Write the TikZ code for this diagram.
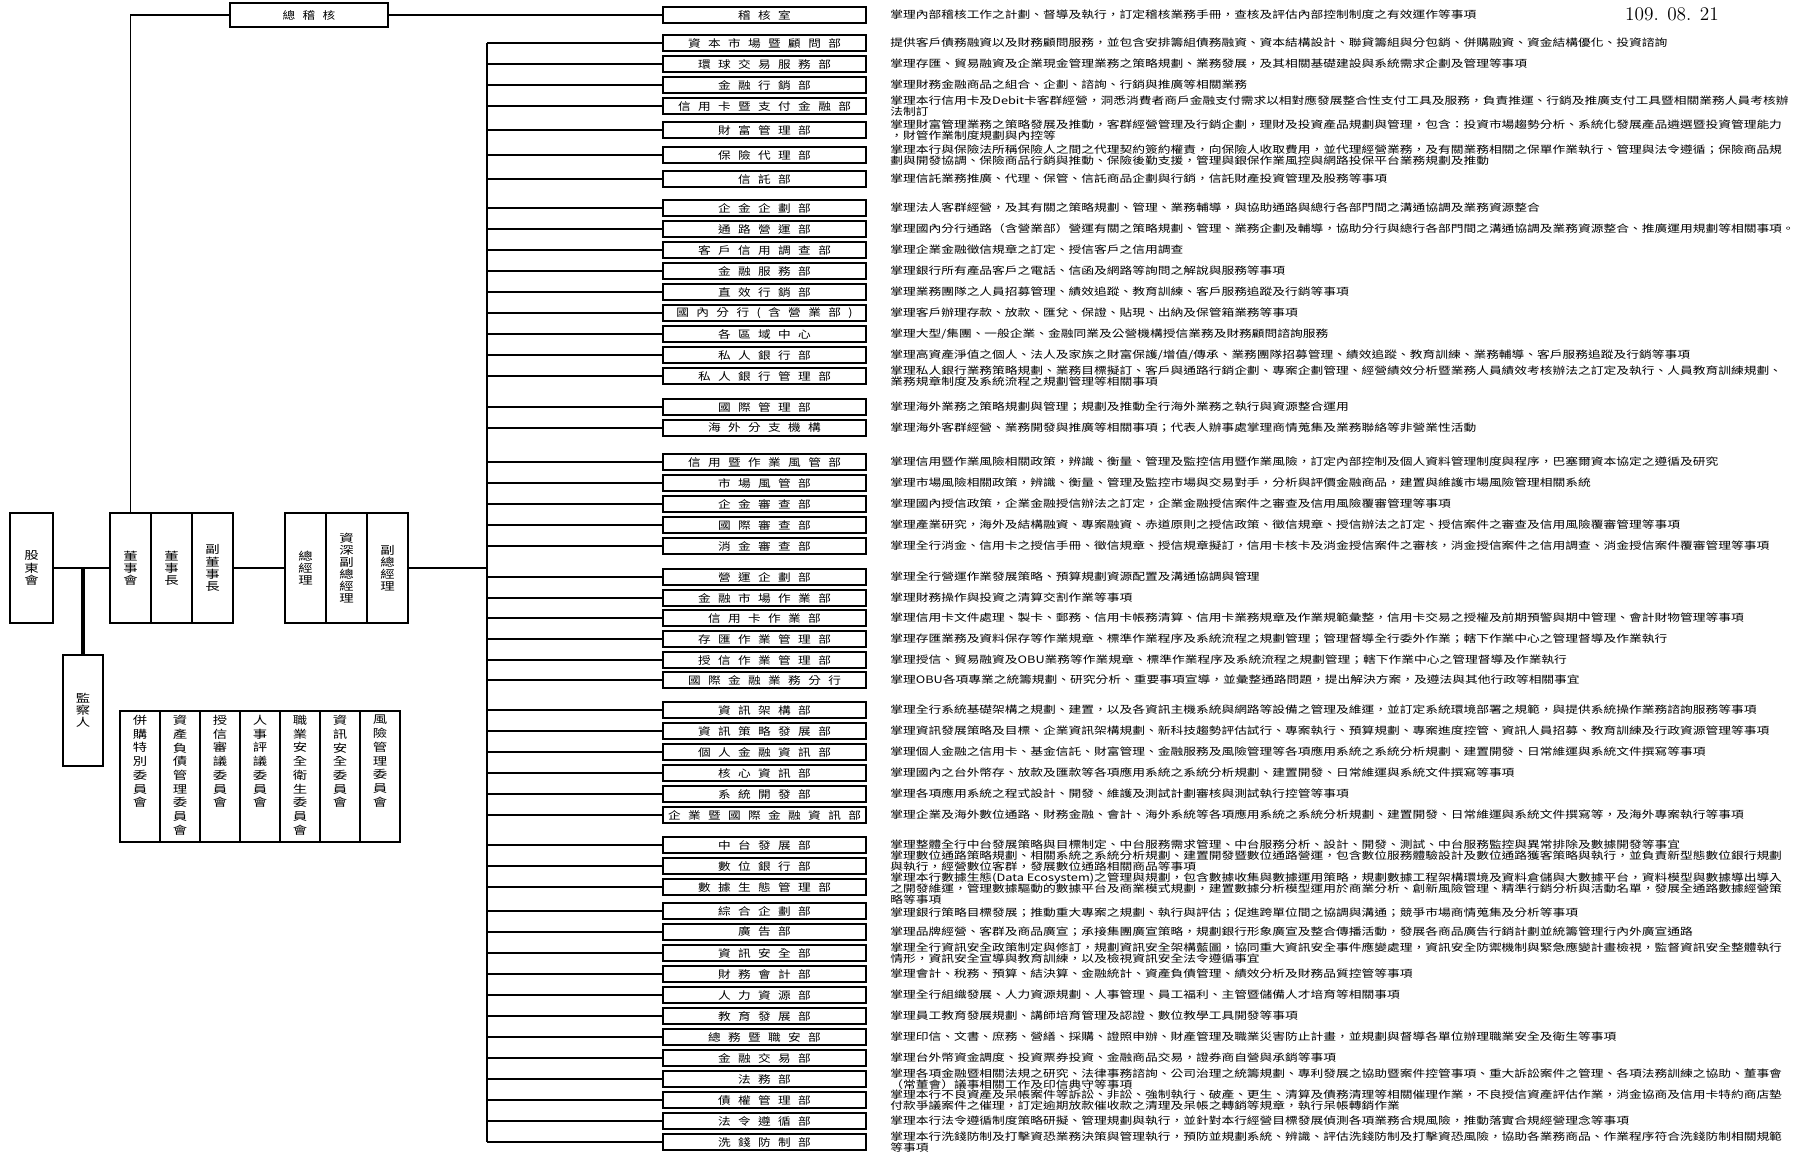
\documentclass[tikz,border=0pt]{standalone}
\usepackage{fontspec}
\usepackage{tikz}
\usetikzlibrary{positioning}
\newfontfamily\cjkv[FakeStretch=1.3]{Noto Sans CJK TC}
\newfontfamily\cjkdept[FakeStretch=1.2,LetterSpace=70]{Noto Sans CJK TC}
\newfontfamily\cjkdesc[FakeStretch=1.25]{Noto Sans CJK TC}
\newcommand\vfont{\cjkv\fontsize{6.3}{6.9}\selectfont}
\newcommand\cmtfont{\cjkv\fontsize{6.3}{7.8}\selectfont}
\newcommand\deptfont{\cjkdept\fontsize{6}{6.5}\selectfont}
\newcommand\descfont{\cjkdesc\fontsize{5.8}{6.3}\selectfont}
\newcommand\topcol[1]{\parbox[c][2.45cm][t]{0.8cm}{\centering #1}}
\tikzset{
  basecell/.style={rectangle, draw=black, line width=1pt, inner sep=0pt,
                   outer sep=0pt, align=center},
  chiefbox/.style={basecell, minimum width=0.82cm, minimum height=2.2cm,
                   font=\vfont},
  cmtbox/.style={basecell, minimum width=0.8cm, minimum height=2.62cm,
                 font=\cmtfont},
  deptbox/.style={basecell, minimum width=4.06cm, minimum height=0.32cm,
                  font=\deptfont},
  descnode/.style={inner sep=0pt, align=left, font=\descfont},
  busline/.style={line width=1.7pt},
  branchline/.style={line width=1.1pt}
}
\begin{document}
\begin{tikzpicture}[x=0.02cm, y=-0.02cm, node distance=0.48cm]
  \useasboundingbox (0,0) rectangle (1813,1155);
  \node[font=\fontsize{11}{12}\selectfont, anchor=north] (date) at (1672,1) {109. 08. 21};

  % board and management
  \node[deptbox, minimum width=3.16cm, minimum height=0.48cm] (zjh) at (309,15) {總稽核};
  \node[chiefbox, minimum width=0.86cm] (gdh) at (31.5,568) {股\\東\\會};
  \node[chiefbox, minimum width=0.8cm, minimum height=2.22cm] (jcr) at (83,710.5) {監\\察\\人};
  \node[chiefbox] (dsh) at (130.5,568) {董\\事\\會};
  \node[chiefbox, right=0pt of dsh] (dsz) {董\\事\\長};
  \node[chiefbox, right=0pt of dsz] (fdsz) {副\\董\\事\\長};
  \node[chiefbox] (zjl) at (305.5,568) {總\\經\\理};
  \node[chiefbox, right=0pt of zjl] (zsfz) {資\\深\\副\\總\\經\\理};
  \node[chiefbox, right=0pt of zsfz] (fzjl) {副\\總\\經\\理};

  % committees
  \node[cmtbox] (cm1) at (140,776.5) {\topcol{併\\購\\特\\別\\委\\員\\會}};
  \node[cmtbox, right=0pt of cm1] (cm2) {\topcol{資\\產\\負\\債\\管\\理\\委\\員\\會}};
  \node[cmtbox, right=0pt of cm2] (cm3) {\topcol{授\\信\\審\\議\\委\\員\\會}};
  \node[cmtbox, right=0pt of cm3] (cm4) {\topcol{人\\事\\評\\議\\委\\員\\會}};
  \node[cmtbox, right=0pt of cm4] (cm5) {\topcol{職\\業\\安\\全\\衛\\生\\委\\員\\會}};
  \node[cmtbox, right=0pt of cm5] (cm6) {\topcol{資\\訊\\安\\全\\委\\員\\會}};
  \node[cmtbox, right=0pt of cm6] (cm7) {\topcol{風\\險\\管\\理\\委\\員\\會}};

  % departments
  \node[deptbox] (audit) at (764.5,15) {稽核室};
  \node[deptbox] (capmkt) at (764.5,43) {資本市場暨顧問部};
  \node[deptbox] (gts) at (764.5,64) {環球交易服務部};
  \node[deptbox] (fmkt) at (764.5,85) {金融行銷部};
  \node[deptbox] (card) at (764.5,106) {信用卡暨支付金融部};
  \node[deptbox] (wealth) at (764.5,130) {財富管理部};
  \node[deptbox] (insur) at (764.5,155) {保險代理部};
  \node[deptbox] (trust) at (764.5,179) {信託部};
  \node[deptbox] (ebplan) at (764.5,208) {企金企劃部};
  \node[deptbox] (channel) at (764.5,229) {通路營運部};
  \node[deptbox] (credinv) at (764.5,250) {客戶信用調查部};
  \node[deptbox] (finsvc) at (764.5,271) {金融服務部};
  \node[deptbox] (dmkt) at (764.5,292) {直效行銷部};
  \node[deptbox] (branch) at (764.5,313) {國內分行(含營業部)};
  \node[deptbox] (region) at (764.5,334) {各區域中心};
  \node[deptbox] (pb) at (764.5,355) {私人銀行部};
  \node[deptbox] (pbmgt) at (764.5,376) {私人銀行管理部};
  \node[deptbox] (intl) at (764.5,407) {國際管理部};
  \node[deptbox] (overseas) at (764.5,428) {海外分支機構};
  \node[deptbox] (crrisk) at (764.5,462) {信用暨作業風管部};
  \node[deptbox] (mktrisk) at (764.5,483) {市場風管部};
  \node[deptbox] (ebrev) at (764.5,504) {企金審查部};
  \node[deptbox] (intlrev) at (764.5,525) {國際審查部};
  \node[deptbox] (cbrev) at (764.5,546) {消金審查部};
  \node[deptbox] (opsplan) at (764.5,577) {營運企劃部};
  \node[deptbox] (fmops) at (764.5,598) {金融市場作業部};
  \node[deptbox] (cardops) at (764.5,618) {信用卡作業部};
  \node[deptbox] (depops) at (764.5,639) {存匯作業管理部};
  \node[deptbox] (loanops) at (764.5,660) {授信作業管理部};
  \node[deptbox] (obu) at (764.5,680) {國際金融業務分行};
  \node[deptbox] (itarch) at (764.5,710) {資訊架構部};
  \node[deptbox] (itstrat) at (764.5,731) {資訊策略發展部};
  \node[deptbox] (pfit) at (764.5,752) {個人金融資訊部};
  \node[deptbox] (coreit) at (764.5,773) {核心資訊部};
  \node[deptbox] (sysdev) at (764.5,794) {系統開發部};
  \node[deptbox] (ebit) at (764.5,815) {企業暨國際金融資訊部};
  \node[deptbox] (midpf) at (764.5,845) {中台發展部};
  \node[deptbox] (digital) at (764.5,866) {數位銀行部};
  \node[deptbox] (data) at (764.5,887) {數據生態管理部};
  \node[deptbox] (strategy) at (764.5,911) {綜合企劃部};
  \node[deptbox] (adv) at (764.5,932) {廣告部};
  \node[deptbox] (infosec) at (764.5,953) {資訊安全部};
  \node[deptbox] (acct) at (764.5,974) {財務會計部};
  \node[deptbox] (hr) at (764.5,995) {人力資源部};
  \node[deptbox] (edu) at (764.5,1016) {教育發展部};
  \node[deptbox] (general) at (764.5,1037) {總務暨職安部};
  \node[deptbox] (fintrade) at (764.5,1058) {金融交易部};
  \node[deptbox] (legal) at (764.5,1079) {法務部};
  \node[deptbox] (npl) at (764.5,1100) {債權管理部};
  \node[deptbox] (compl) at (764.5,1121) {法令遵循部};
  \node[deptbox] (aml) at (764.5,1142) {洗錢防制部};

  % duties
  \node[descnode, right=of audit] (audit-d) {掌理內部稽核工作之計劃、督導及執行，訂定稽核業務手冊，查核及評估內部控制制度之有效運作等事項};
  \node[descnode, right=of capmkt] (capmkt-d) {提供客戶債務融資以及財務顧問服務，並包含安排籌組債務融資、資本結構設計、聯貸籌組與分包銷、併購融資、資金結構優化、投資諮詢};
  \node[descnode, right=of gts] (gts-d) {掌理存匯、貿易融資及企業現金管理業務之策略規劃、業務發展，及其相關基礎建設與系統需求企劃及管理等事項};
  \node[descnode, right=of fmkt] (fmkt-d) {掌理財務金融商品之組合、企劃、諮詢、行銷與推廣等相關業務};
  \node[descnode, right=of card] (card-d) {掌理本行信用卡及Debit卡客群經營，洞悉消費者商戶金融支付需求以相對應發展整合性支付工具及服務，負責推運、行銷及推廣支付工具暨相關業務人員考核辦\\法制訂};
  \node[descnode, right=of wealth] (wealth-d) {掌理財富管理業務之策略發展及推動，客群經營管理及行銷企劃，理財及投資產品規劃與管理，包含：投資市場趨勢分析、系統化發展產品遴選暨投資管理能力\\，財管作業制度規劃與內控等};
  \node[descnode, right=of insur] (insur-d) {掌理本行與保險法所稱保險人之間之代理契約簽約權責，向保險人收取費用，並代理經營業務，及有關業務相關之保單作業執行、管理與法令遵循；保險商品規\\劃與開發協調、保險商品行銷與推動、保險後勤支援，管理與銀保作業風控與網路投保平台業務規劃及推動};
  \node[descnode, right=of trust] (trust-d) {掌理信託業務推廣、代理、保管、信託商品企劃與行銷，信託財產投資管理及股務等事項};
  \node[descnode, right=of ebplan] (ebplan-d) {掌理法人客群經營，及其有關之策略規劃、管理、業務輔導，與協助通路與總行各部門間之溝通協調及業務資源整合};
  \node[descnode, right=of channel] (channel-d) {掌理國內分行通路（含營業部）營運有關之策略規劃、管理、業務企劃及輔導，協助分行與總行各部門間之溝通協調及業務資源整合、推廣運用規劃等相關事項。};
  \node[descnode, right=of credinv] (credinv-d) {掌理企業金融徵信規章之訂定、授信客戶之信用調查};
  \node[descnode, right=of finsvc] (finsvc-d) {掌理銀行所有產品客戶之電話、信函及網路等詢問之解說與服務等事項};
  \node[descnode, right=of dmkt] (dmkt-d) {掌理業務團隊之人員招募管理、績效追蹤、教育訓練、客戶服務追蹤及行銷等事項};
  \node[descnode, right=of branch] (branch-d) {掌理客戶辦理存款、放款、匯兌、保證、貼現、出納及保管箱業務等事項};
  \node[descnode, right=of region] (region-d) {掌理大型/集團、一般企業、金融同業及公營機構授信業務及財務顧問諮詢服務};
  \node[descnode, right=of pb] (pb-d) {掌理高資產淨值之個人、法人及家族之財富保護/增值/傳承、業務團隊招募管理、績效追蹤、教育訓練、業務輔導、客戶服務追蹤及行銷等事項};
  \node[descnode, right=of pbmgt] (pbmgt-d) {掌理私人銀行業務策略規劃、業務目標擬訂、客戶與通路行銷企劃、專案企劃管理、經營績效分析暨業務人員績效考核辦法之訂定及執行、人員教育訓練規劃、\\業務規章制度及系統流程之規劃管理等相關事項};
  \node[descnode, right=of intl] (intl-d) {掌理海外業務之策略規劃與管理；規劃及推動全行海外業務之執行與資源整合運用};
  \node[descnode, right=of overseas] (overseas-d) {掌理海外客群經營、業務開發與推廣等相關事項；代表人辦事處掌理商情蒐集及業務聯絡等非營業性活動};
  \node[descnode, right=of crrisk] (crrisk-d) {掌理信用暨作業風險相關政策，辨識、衡量、管理及監控信用暨作業風險，訂定內部控制及個人資料管理制度與程序，巴塞爾資本協定之遵循及研究};
  \node[descnode, right=of mktrisk] (mktrisk-d) {掌理市場風險相關政策，辨識、衡量、管理及監控市場與交易對手，分析與評價金融商品，建置與維護市場風險管理相關系統};
  \node[descnode, right=of ebrev] (ebrev-d) {掌理國內授信政策，企業金融授信辦法之訂定，企業金融授信案件之審查及信用風險覆審管理等事項};
  \node[descnode, right=of intlrev] (intlrev-d) {掌理產業研究，海外及結構融資、專案融資、赤道原則之授信政策、徵信規章、授信辦法之訂定、授信案件之審查及信用風險覆審管理等事項};
  \node[descnode, right=of cbrev] (cbrev-d) {掌理全行消金、信用卡之授信手冊、徵信規章、授信規章擬訂，信用卡核卡及消金授信案件之審核，消金授信案件之信用調查、消金授信案件覆審管理等事項};
  \node[descnode, right=of opsplan] (opsplan-d) {掌理全行營運作業發展策略、預算規劃資源配置及溝通協調與管理};
  \node[descnode, right=of fmops] (fmops-d) {掌理財務操作與投資之清算交割作業等事項};
  \node[descnode, right=of cardops] (cardops-d) {掌理信用卡文件處理、製卡、郵務、信用卡帳務清算、信用卡業務規章及作業規範彙整，信用卡交易之授權及前期預警與期中管理、會計財物管理等事項};
  \node[descnode, right=of depops] (depops-d) {掌理存匯業務及資料保存等作業規章、標準作業程序及系統流程之規劃管理；管理督導全行委外作業；轄下作業中心之管理督導及作業執行};
  \node[descnode, right=of loanops] (loanops-d) {掌理授信、貿易融資及OBU業務等作業規章、標準作業程序及系統流程之規劃管理；轄下作業中心之管理督導及作業執行};
  \node[descnode, right=of obu] (obu-d) {掌理OBU各項專業之統籌規劃、研究分析、重要事項宣導，並彙整通路問題，提出解決方案，及遵法與其他行政等相關事宜};
  \node[descnode, right=of itarch] (itarch-d) {掌理全行系統基礎架構之規劃、建置，以及各資訊主機系統與網路等設備之管理及維運，並訂定系統環境部署之規範，與提供系統操作業務諮詢服務等事項};
  \node[descnode, right=of itstrat] (itstrat-d) {掌理資訊發展策略及目標、企業資訊架構規劃、新科技趨勢評估試行、專案執行、預算規劃、專案進度控管、資訊人員招募、教育訓練及行政資源管理等事項};
  \node[descnode, right=of pfit] (pfit-d) {掌理個人金融之信用卡、基金信託、財富管理、金融服務及風險管理等各項應用系統之系統分析規劃、建置開發、日常維運與系統文件撰寫等事項};
  \node[descnode, right=of coreit] (coreit-d) {掌理國內之台外幣存、放款及匯款等各項應用系統之系統分析規劃、建置開發、日常維運與系統文件撰寫等事項};
  \node[descnode, right=of sysdev] (sysdev-d) {掌理各項應用系統之程式設計、開發、維護及測試計劃審核與測試執行控管等事項};
  \node[descnode, right=of ebit] (ebit-d) {掌理企業及海外數位通路、財務金融、會計、海外系統等各項應用系統之系統分析規劃、建置開發、日常維運與系統文件撰寫等，及海外專案執行等事項};
  \node[descnode, right=of midpf] (midpf-d) {掌理整體全行中台發展策略與目標制定、中台服務需求管理、中台服務分析、設計、開發、測試、中台服務監控與異常排除及數據開發等事宜};
  \node[descnode, right=of digital, yshift=0.1cm] (digital-d) {掌理數位通路策略規劃、相關系統之系統分析規劃、建置開發暨數位通路營運，包含數位服務體驗設計及數位通路獲客策略與執行，並負責新型態數位銀行規劃\\與執行，經營數位客群，發展數位通路相關商品等事項};
  \node[descnode, right=of data, yshift=-0.03cm] (data-d) {掌理本行數據生態(Data Ecosystem)之管理與規劃，包含數據收集與數據運用策略，規劃數據工程架構環境及資料倉儲與大數據平台，資料模型與數據導出導入\\之開發維運，管理數據驅動的數據平台及商業模式規劃，建置數據分析模型運用於商業分析、創新風險管理、精準行銷分析與活動名單，發展全通路數據經營策\\略等事項};
  \node[descnode, right=of strategy, yshift=-0.04cm] (strategy-d) {掌理銀行策略目標發展；推動重大專案之規劃、執行與評估；促進跨單位間之協調與溝通；競爭市場商情蒐集及分析等事項};
  \node[descnode, right=of adv] (adv-d) {掌理品牌經營、客群及商品廣宣；承接集團廣宣策略，規劃銀行形象廣宣及整合傳播活動，發展各商品廣告行銷計劃並統籌管理行內外廣宣通路};
  \node[descnode, right=of infosec] (infosec-d) {掌理全行資訊安全政策制定與修訂，規劃資訊安全架構藍圖，協同重大資訊安全事件應變處理，資訊安全防禦機制與緊急應變計畫檢視，監督資訊安全整體執行\\情形，資訊安全宣導與教育訓練，以及檢視資訊安全法令遵循事宜};
  \node[descnode, right=of acct] (acct-d) {掌理會計、稅務、預算、結決算、金融統計、資產負債管理、績效分析及財務品質控管等事項};
  \node[descnode, right=of hr] (hr-d) {掌理全行組織發展、人力資源規劃、人事管理、員工福利、主管暨儲備人才培育等相關事項};
  \node[descnode, right=of edu] (edu-d) {掌理員工教育發展規劃、講師培育管理及認證、數位教學工具開發等事項};
  \node[descnode, right=of general] (general-d) {掌理印信、文書、庶務、營繕、採購、證照申辦、財產管理及職業災害防止計畫，並規劃與督導各單位辦理職業安全及衛生等事項};
  \node[descnode, right=of fintrade] (fintrade-d) {掌理台外幣資金調度、投資票券投資、金融商品交易，證券商自營與承銷等事項};
  \node[descnode, right=of legal] (legal-d) {掌理各項金融暨相關法規之研究、法律事務諮詢、公司治理之統籌規劃、專利發展之協助暨案件控管事項、重大訴訟案件之管理、各項法務訓練之協助、董事會\\（常董會）議事相關工作及印信典守等事項};
  \node[descnode, right=of npl] (npl-d) {掌理本行不良資產及呆帳案件等訴訟、非訟、強制執行、破產、更生、清算及債務清理等相關催理作業，不良授信資產評估作業，消金協商及信用卡特約商店墊\\付款爭議案件之催理，訂定逾期放款催收款之清理及呆帳之轉銷等規章，執行呆帳轉銷作業};
  \node[descnode, right=of compl] (compl-d) {掌理本行法令遵循制度策略研擬、管理規劃與執行，並針對本行經營目標發展偵測各項業務合規風險，推動落實合規經營理念等事項};
  \node[descnode, right=of aml] (aml-d) {掌理本行洗錢防制及打擊資恐業務決策與管理執行，預防並規劃系統、辨識、評估洗錢防制及打擊資恐風險，協助各業務商品、作業程序符合洗錢防制相關規範\\等事項};

  % connectors
  \coordinate (bus) at (487,43);
  \draw[branchline] (zjh.west) -| (dsh.north);
  \draw[branchline] (zjh.east) -- (audit.west);
  \draw[branchline] (gdh.east) -- (dsh.west);
  \draw[line width=2.2pt] (jcr.north) -- (jcr.north |- gdh.east);
  \draw[branchline] (fdsz.east) -- (zjl.west);
  \draw[branchline] (fzjl.east) -- (fzjl.east -| bus);
  \draw[busline] (capmkt.west -| bus) -- (aml.west -| bus);
  \foreach \d in {capmkt, gts, fmkt, card, wealth, insur, trust, ebplan, channel,
                  credinv, finsvc, dmkt, branch, region, pb, pbmgt, intl, overseas,
                  crrisk, mktrisk, ebrev, intlrev, cbrev, opsplan, fmops, cardops,
                  depops, loanops, obu, itarch, itstrat, pfit, coreit, sysdev, ebit,
                  midpf, digital, data, strategy, adv, infosec, acct, hr, edu,
                  general, fintrade, legal, npl, compl, aml}
    \draw[branchline] (\d.west -| bus) -- (\d.west);
\end{tikzpicture}
\end{document}
